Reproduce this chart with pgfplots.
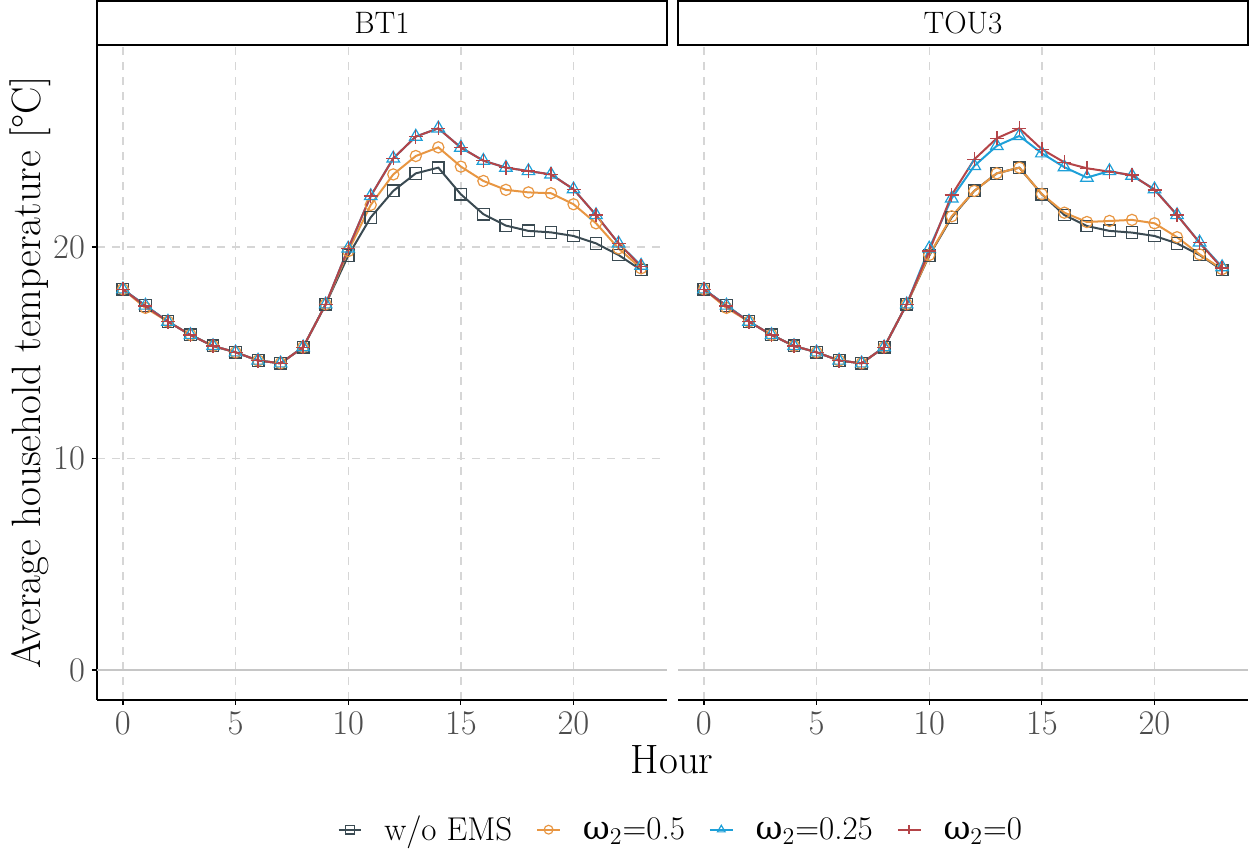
\documentclass[border=0pt]{standalone}
\usepackage{fontspec}
\usepackage{pgfplots}
\usepackage{pgfplotstable}
\pgfplotsset{compat=1.18}
\newfontfamily\grk{DejaVu Serif}
\definecolor{cA}{RGB}{58,74,82}
\definecolor{cB}{RGB}{232,150,66}
\definecolor{cC}{RGB}{30,160,216}
\definecolor{cD}{RGB}{180,68,72}
\definecolor{tickgray}{RGB}{77,77,77}

\pgfplotstableread{
h a b c d
0 18.0 18.0 18.0 18.0
1 17.23 17.12 17.23 17.2
2 16.47 16.47 16.47 16.47
3 15.84 15.84 15.84 15.84
4 15.32 15.32 15.32 15.32
5 15.02 15.02 15.02 15.02
6 14.63 14.63 14.63 14.63
7 14.50 14.50 14.50 14.50
8 15.26 15.26 15.26 15.26
9 17.29 17.29 17.29 17.29
10 19.59 19.80 19.93 19.93
11 21.40 21.99 22.41 22.41
12 22.65 23.43 24.19 24.19
13 23.48 24.30 25.22 25.22
14 23.75 24.71 25.61 25.61
15 22.49 23.80 24.70 24.70
16 21.55 23.12 24.08 24.08
17 21.01 22.70 23.75 23.75
18 20.76 22.58 23.59 23.59
19 20.69 22.54 23.43 23.43
20 20.52 22.02 22.73 22.73
21 20.17 21.12 21.51 21.51
22 19.62 19.93 20.17 20.17
23 18.91 18.99 19.12 19.08
}\tblBT

\pgfplotstableread{
h a b c d
0 18.0 18.0 18.0 18.0
1 17.23 17.12 17.23 17.2
2 16.47 16.47 16.47 16.47
3 15.84 15.84 15.84 15.84
4 15.32 15.32 15.32 15.32
5 15.02 15.02 15.02 15.02
6 14.63 14.63 14.63 14.63
7 14.50 14.50 14.50 14.50
8 15.26 15.26 15.26 15.26
9 17.29 17.29 17.29 17.29
10 19.59 19.62 19.93 19.80
11 21.40 21.45 22.30 22.46
12 22.65 22.65 23.83 24.14
13 23.48 23.48 24.78 25.14
14 23.75 23.75 25.25 25.61
15 22.49 22.50 24.43 24.62
16 21.51 21.62 23.77 24.00
17 20.99 21.18 23.28 23.72
18 20.76 21.23 23.59 23.56
19 20.68 21.28 23.37 23.40
20 20.52 21.12 22.73 22.70
21 20.17 20.46 21.51 21.51
22 19.62 19.65 20.22 20.20
23 18.91 18.95 19.05 19.00
}\tblTOU

\pgfplotsset{
  panel/.style={
    scale only axis,
    width=285pt, height=327.5pt,
    xmin=-1.15, xmax=24.15, ymin=-1.42, ymax=29.55,
    xtick={0,5,10,15,20}, ytick={0,10,20},
    grid=major,
    major grid style={dashed, dash pattern=on 4pt off 3.5pt, color=black!16, line width=0.7pt},
    tick align=outside,
    major tick length=2.5pt,
    tick style={black, line width=0.6pt},
    axis line style={-, black, line width=0.7pt},
    ticklabel style={font=\fontsize{17}{20}\selectfont, text=tickgray},
    legend image code/.code={\draw[mark repeat=2,mark phase=2,#1,mark size=2.2pt] plot coordinates {(0cm,0cm)(0.2cm,0cm)(0.4cm,0cm)};},
  },
  sA/.style={cA, line width=1pt, mark=square, mark size=2.9pt, mark options={line width=0.65pt, solid}},
  sB/.style={cB, line width=1pt, mark=o, mark size=2.8pt, mark options={line width=0.6pt, solid}},
  sC/.style={cC, line width=1pt, mark=triangle, mark size=3.6pt, mark options={line width=0.6pt, solid}},
  sD/.style={cD, line width=1pt, mark=+, mark size=3.5pt, mark options={line width=0.7pt, solid}},
}

\begin{document}
\begin{tikzpicture}
\useasboundingbox (0,0) rectangle (626.5pt,425pt);
\begin{axis}[panel, name=left, at={(48.5pt,75pt)}, anchor=south west,
  axis x line*=bottom, axis y line*=left,
  xlabel={Hour}, ylabel={Average household temperature [\textdegree C]},
  xlabel style={font=\fontsize{20.5}{24}\selectfont, at={(axis description cs:1.009,-0.0916)}, anchor=center},
  ylabel style={font=\fontsize{20.5}{24}\selectfont, at={(axis description cs:-0.1175,0.5)}, anchor=center},
  legend columns=4,
  legend style={at={(axis description cs:1.026,-0.198)}, anchor=center, draw=none, fill=none,
    font=\fontsize{16.5}{20}\selectfont,
    /tikz/every odd column/.append style={column sep=9pt},
    /tikz/every even column/.append style={column sep=10pt}},
  legend cell align=left,
]
\addplot[gray!45, line width=1.1pt, forget plot] coordinates {(-1.15,0) (24.15,0)};
\addplot[sA] table[x=h,y=a] {\tblBT};
\addlegendentry{w/o EMS}
\addplot[sB] table[x=h,y=b] {\tblBT};
\addlegendentry{{\grk ω}$_2$=0.5}
\addplot[sC] table[x=h,y=c] {\tblBT};
\addlegendentry{{\grk ω}$_2$=0.25}
\addplot[sD] table[x=h,y=d] {\tblBT};
\addlegendentry{{\grk ω}$_2$=0}
\end{axis}
\begin{axis}[panel, name=right, at={(339pt,75pt)}, anchor=south west,
  axis x line*=bottom, axis y line=none, yticklabels={},
]
\addplot[gray!45, line width=1.1pt, forget plot] coordinates {(-1.15,0) (24.15,0)};
\addplot[sA] table[x=h,y=a] {\tblTOU};
\addplot[sB] table[x=h,y=b] {\tblTOU};
\addplot[sC] table[x=h,y=c] {\tblTOU};
\addplot[sD] table[x=h,y=d] {\tblTOU};
\end{axis}
\draw[line width=0.9pt] (left.north west) rectangle ([yshift=22pt]left.north east);
\node[font=\fontsize{15.5}{18}\selectfont] at ([yshift=11pt]left.north) {BT1};
\draw[line width=0.9pt] (right.north west) rectangle ([yshift=22pt]right.north east);
\node[font=\fontsize{15.5}{18}\selectfont] at ([yshift=11pt]right.north) {TOU3};
\end{tikzpicture}
\end{document}
